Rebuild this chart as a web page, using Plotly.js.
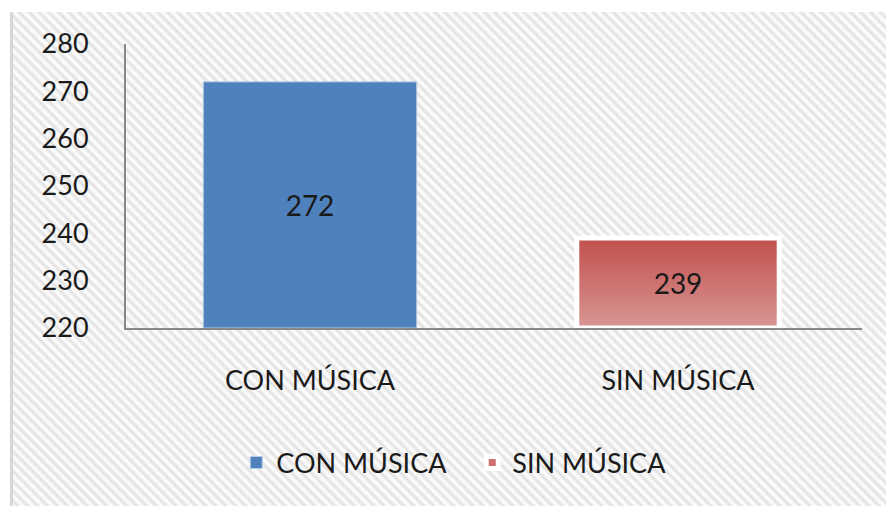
<!DOCTYPE html>
<html>
<head>
<meta charset="utf-8">
<script src="https://cdn.plot.ly/plotly-3.0.1.min.js"></script>
<style>
  html, body { margin: 0; padding: 0; background: #ffffff; }
  #bg {
    position: absolute; left: 10px; top: 12px; width: 876px; height: 494px;
    border-left: 3px solid #d6d6d6; box-sizing: border-box;
    background: repeating-linear-gradient(45deg, #ffffff 0px, #f4f4f4 1.5px, #e0e0e0 3.5px, #f4f4f4 5.5px, #ffffff 7px);
  }
  #chart { position: absolute; left: 0; top: 0; width: 886px; height: 506px; }
</style>
</head>
<body>
<div id="bg"></div>
<div id="chart"></div>
<script>
const categories = ["CON MÚSICA", "SIN MÚSICA"];
const conMusica = [272];
const sinMusica = [239];
const yTicks = [220, 230, 240, 250, 260, 270, 280];
const axisFloor = 220;

const FONT = "Lato, 'Open Sans', sans-serif";
const TXT = "#1a1a1a";

const traces = [
  {
    type: "bar", name: categories[0], x: [categories[0]],
    y: conMusica.map(v => v - axisFloor), base: axisFloor,
    text: conMusica.map(String), textposition: "inside", insidetextanchor: "middle",
    textfont: { family: FONT, size: 28, color: TXT },
    marker: { color: "#4f81bd", line: { color: "#b9cde5", width: 1 } },
    width: 0.58, offset: -0.29, hoverinfo: "skip"
  },
  {
    type: "bar", name: categories[1], x: [categories[1]],
    y: sinMusica.map(v => v - axisFloor), base: axisFloor,
    text: sinMusica.map(String), textposition: "inside", insidetextanchor: "middle",
    textfont: { family: FONT, size: 28, color: TXT },
    marker: { color: "#cd6f6c", line: { color: "#ffffff", width: 5 } },
    width: 0.55, offset: -0.275, hoverinfo: "skip"
  }
];

const layout = {
  width: 886, height: 506,
  margin: { l: 126, r: 24, t: 44, b: 178 },
  paper_bgcolor: "rgba(0,0,0,0)", plot_bgcolor: "rgba(0,0,0,0)",
  showlegend: true,
  legend: {
    orientation: "h", xref: "container", x: 0.533, xanchor: "center",
    yref: "container", y: 0.085, yanchor: "middle",
    font: { family: FONT, size: 27, color: TXT },
    bgcolor: "rgba(0,0,0,0)", itemwidth: 30, entrywidth: 191, traceorder: "normal"
  },
  xaxis: {
    type: "category", categoryorder: "array", categoryarray: categories,
    range: [-0.5, 1.5],
    showline: true, linecolor: "#888888", linewidth: 2,
    showgrid: false, zeroline: false, ticks: "",
    tickfont: { family: FONT, size: 27, color: TXT },
    ticklabelstandoff: 28, fixedrange: true
  },
  yaxis: {
    range: [220, 280], tickvals: yTicks, ticktext: yTicks.map(String),
    showline: true, linecolor: "#888888", linewidth: 2,
    showgrid: false, zeroline: false, ticks: "",
    tickfont: { family: FONT, size: 27, color: TXT },
    ticklabelstandoff: 30, fixedrange: true
  },
  bargap: 0.4
};

Plotly.newPlot("chart", traces, layout, { staticPlot: true, displayModeBar: false }).then(gd => {
  const svg = gd.querySelector("svg.main-svg");
  const defs = svg.querySelector("defs");
  const ns = "http://www.w3.org/2000/svg";
  const lg = document.createElementNS(ns, "linearGradient");
  lg.setAttribute("id", "redgrad");
  lg.setAttribute("x1", "0"); lg.setAttribute("y1", "0");
  lg.setAttribute("x2", "0"); lg.setAttribute("y2", "1");
  [["0", "#c0504d"], ["1", "#d99694"]].forEach(([o, c]) => {
    const s = document.createElementNS(ns, "stop");
    s.setAttribute("offset", o); s.setAttribute("stop-color", c);
    lg.appendChild(s);
  });
  defs.appendChild(lg);
  const barGroups = gd.querySelectorAll(".barlayer .trace");
  if (barGroups[1]) {
    barGroups[1].querySelectorAll("path").forEach(p => { p.style.fill = "url(#redgrad)"; });
  }
});
</script>
</body>
</html>
